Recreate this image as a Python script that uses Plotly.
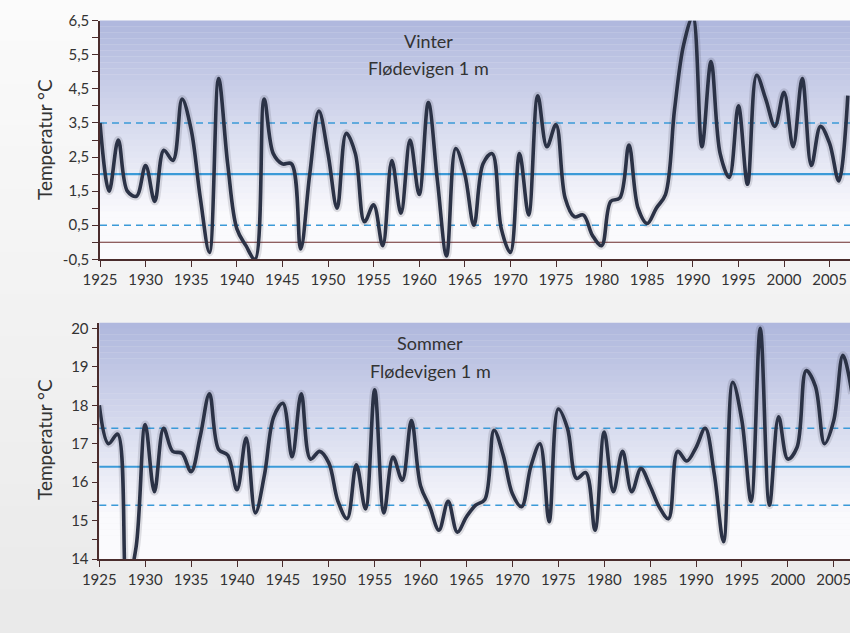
import plotly.graph_objects as go

years = list(range(1925, 2008))

winter = [3.5, 1.5, 3.0, 1.5, 1.35, 2.25, 1.2, 2.7, 2.4, 4.2,
          3.3, 1.3, -0.3, 4.8, 2.3, 0.4, -0.1, -0.5, 4.2, 2.6,
          2.3, 2.3, -0.2, 2.0, 3.85, 2.6, 1.0, 3.2, 2.6, 0.6,
          1.1, -0.1, 2.4, 0.85, 3.0, 1.4, 4.1, 1.8, -0.4, 2.75,
          2.0, 0.5, 2.3, 2.6, 0.4, -0.3, 2.6, 0.8, 4.3, 2.8,
          3.45, 1.3, 0.75, 0.8, 0.2, -0.1, 1.2, 1.3, 2.85, 1.0,
          0.55, 1.0, 1.4, 3.9, 5.8, 6.6, 2.8, 5.3, 2.6, 1.9,
          4.0, 1.7, 4.9, 4.2, 3.4, 4.4, 2.8, 4.8, 2.25, 3.4,
          2.9, 1.8, 4.3]

summer = [18.0, 17.0, 17.25, 13.3, 14.3, 17.5, 15.75, 17.4, 16.8, 16.75,
          16.27, 17.2, 18.3, 16.85, 16.7, 15.8, 17.15, 15.2, 16.2, 17.7,
          18.05, 16.66, 18.3, 16.6, 16.8, 16.5, 15.5, 15.05, 16.45, 15.3,
          18.4, 15.2, 16.65, 16.05, 17.6, 15.9, 15.36, 14.75, 15.5, 14.7,
          15.1, 15.4, 15.55, 17.35, 16.7, 15.7, 15.36, 16.4, 17.0, 14.97,
          17.9, 17.4, 16.1, 16.25, 14.75, 17.3, 15.75, 16.8, 15.75, 16.35,
          15.9, 15.35, 15.05, 16.8, 16.55, 16.9, 17.4, 16.2, 14.45, 18.6,
          17.6, 15.5, 20.0, 15.4, 17.7, 16.6, 16.9, 18.9, 18.5, 17.0,
          17.6, 19.3, 18.3]

winter_mean, winter_sd = 2.0, 1.5
summer_mean, summer_sd = 16.4, 1.0

winter_ticks = [-0.5, 0.5, 1.5, 2.5, 3.5, 4.5, 5.5, 6.5]
winter_ticktext = ["-0,5", "0,5", "1,5", "2,5", "3,5", "4,5", "5,5", "6,5"]
winter_minor = [0, 1, 2, 3, 4, 5, 6]
summer_ticks = [14, 15, 16, 17, 18, 19, 20]
summer_minor = [14.5, 15.5, 16.5, 17.5, 18.5, 19.5]
year_ticks = list(range(1925, 2010, 5))

W, H = 850, 633
OFF = 0  # page body margin removed via post_script
LINE = "#2b3246"
BLUE = "#3b9ad8"
AXC = "#4a2c2c"
TXT = "#333333"
FONT = "Lato"

def px(xs):
    return (xs - OFF) / W

def py(ys):
    return 1 - (ys - OFF) / H

fig = go.Figure()

for xa, ya, vals in [("x", "y", winter), ("x2", "y2", summer)]:
    fig.add_trace(go.Scatter(x=years, y=vals, xaxis=xa, yaxis=ya, mode="lines",
                             line=dict(color="rgba(30,30,50,0.13)", width=8, shape="spline", smoothing=1.0),
                             hoverinfo="skip", showlegend=False))
    fig.add_trace(go.Scatter(x=years, y=vals, xaxis=xa, yaxis=ya, mode="lines",
                             line=dict(color=LINE, width=3.6, shape="spline", smoothing=1.0),
                             showlegend=False))

shapes = []
# page background gradient
N = 30
for i in range(N):
    t = i / (N - 1)
    c = int(251 - 17 * t)
    shapes.append(dict(type="rect", xref="paper", yref="paper", x0=0, x1=1,
                       y0=1 - (i + 1) / N, y1=1 - i / N + 0.002, line=dict(width=0),
                       fillcolor=f"rgb({c},{c},{c})", layer="below"))

# plot-area gradients
def plot_gradient(xr, yr):
    out = []
    M = 40
    top = (176, 184, 222)
    bot = (250, 250, 253)
    for i in range(M):
        t = min(1.0, i / (M * 0.8))
        col = tuple(int(top[k] + (bot[k] - top[k]) * t) for k in range(3))
        out.append(dict(type="rect", xref=xr, yref=yr, x0=0, x1=1,
                        y0=1 - (i + 1) / M, y1=1 - i / M + 0.001, line=dict(width=0),
                        fillcolor=f"rgb{col}", layer="below"))
    return out

shapes += plot_gradient("x domain", "y domain")
shapes += plot_gradient("x2 domain", "y2 domain")

def hline(xr, yref, y, color, width, dash):
    return dict(type="line", xref=xr, yref=yref, x0=0, x1=1, y0=y, y1=y,
                line=dict(color=color, width=width, dash=dash), layer="below")

DASH = "7px,5px"
shapes += [
    hline("x domain", "y", 0, "#6b2b2b", 1.2, "solid"),
    hline("x domain", "y", winter_mean, BLUE, 2.2, "solid"),
    hline("x domain", "y", winter_mean + winter_sd, BLUE, 1.6, DASH),
    hline("x domain", "y", winter_mean - winter_sd, BLUE, 1.6, DASH),
    hline("x2 domain", "y2", summer_mean, BLUE, 2.2, "solid"),
    hline("x2 domain", "y2", summer_mean + summer_sd, BLUE, 1.6, DASH),
    hline("x2 domain", "y2", summer_mean - summer_sd, BLUE, 1.6, DASH),
]

tickfont = dict(family=FONT, size=15, color=TXT)

def xaxis(domain_left, rng, anchor):
    return dict(domain=[domain_left, 1], range=rng, anchor=anchor, automargin=False,
                tickvals=year_ticks, ticktext=[str(v) for v in year_ticks],
                ticklabeloverflow="allow",
                ticks="outside", ticklen=6, tickcolor=AXC, tickwidth=1.3,
                showline=True, linecolor=AXC, linewidth=1.5,
                showgrid=False, zeroline=False, tickfont=tickfont)

def yaxis(domain, rng, tv, tt, minor, anchor):
    return dict(domain=domain, range=rng, anchor=anchor, automargin=False,
                tickvals=tv, ticktext=tt, ticks="outside", ticklen=6,
                tickcolor=AXC, tickwidth=1.3,
                minor=dict(tickvals=minor, ticks="outside", ticklen=6, tickcolor=AXC, tickwidth=1.3),
                showline=True, linecolor=AXC, linewidth=1.5,
                showgrid=False, zeroline=False, tickfont=tickfont)

# screen pixel geometry of the reference
top_x0, top_ppy = 100, 9.12
bot_x0, bot_ppy = 99.3, 9.18
right_edge = W + OFF  # figure's right edge on screen

fig.update_layout(
    width=W, height=H,
    margin=dict(l=0, r=0, t=0, b=0, pad=0, autoexpand=False),
    paper_bgcolor="#f2f2f2",
    plot_bgcolor="rgba(0,0,0,0)",
    shapes=shapes,
    xaxis=xaxis(px(top_x0), [1925, 1925 + (right_edge - top_x0) / top_ppy], "y"),
    yaxis=yaxis([py(259.3), py(20.7)], [-0.5, 6.5], winter_ticks, winter_ticktext, winter_minor, "x"),
    xaxis2=xaxis(px(bot_x0), [1925, 1925 + (right_edge - bot_x0) / bot_ppy], "y2"),
    yaxis2=yaxis([py(559), py(323)], [14, 20.14], summer_ticks,
                 [str(v) for v in summer_ticks], summer_minor, "x2"),
    showlegend=False,
)

ann_font = dict(family=FONT, size=18, color=TXT)
annotations = [
    dict(text="Vinter", x=px(428), y=py(41)),
    dict(text="Flødevigen 1 m", x=px(428), y=py(68)),
    dict(text="Sommer", x=px(430), y=py(343)),
    dict(text="Flødevigen 1 m", x=px(430), y=py(371)),
]
for a in annotations:
    fig.add_annotation(xref="paper", yref="paper", showarrow=False,
                       xanchor="center", yanchor="middle", font=ann_font, **a)
for yc in [140, 440]:
    fig.add_annotation(xref="paper", yref="paper", showarrow=False, text="Temperatur °C",
                       x=px(44), y=py(yc), textangle=-90, xanchor="center", yanchor="middle",
                       font=dict(family=FONT, size=19, color=TXT))

fig.write_html("out.html", config={"displayModeBar": False},
               post_script="document.body.style.margin='0';document.body.style.overflow='hidden';")
